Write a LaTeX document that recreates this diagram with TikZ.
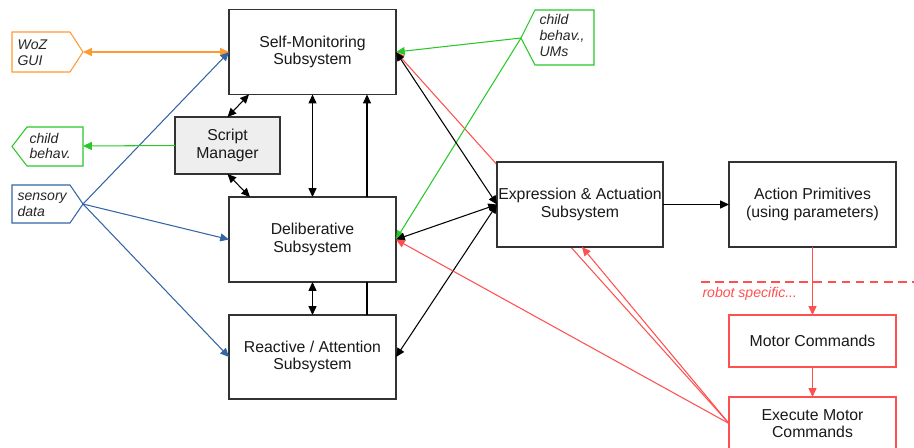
\documentclass[tikz,border=0pt]{standalone}
\usepackage{fontspec}
\setmainfont{Liberation Sans}
\usetikzlibrary{arrows.meta,backgrounds}

\definecolor{wozorange}{RGB}{255,153,51}
\definecolor{childgreen}{RGB}{40,200,40}
\definecolor{sensblue}{RGB}{52,101,164}
\definecolor{robred}{RGB}{255,80,80}
\definecolor{boxgray}{RGB}{238,238,238}

\begin{document}
\begin{tikzpicture}[x=0.02cm,y=-0.02cm,
  >={Triangle[length=5pt,width=4.5pt]},
  every path/.style={line width=0.6pt},
  subsys/.style={draw=black!80,line width=0.8pt,fill=white,text=black!90,align=center,
    font=\fontsize{9}{9.8}\selectfont,inner sep=0pt,outer sep=0pt,
    minimum width=3.34cm,minimum height=1.7cm},
  tagtext/.style={anchor=west,align=left,inner sep=0pt,text=black!85,
    font=\fontsize{8}{9}\selectfont\itshape}]
\useasboundingbox (0,0) rectangle (914,447);

% input / output tags
\draw[wozorange] (12,32) -- (70,32) -- (83,52) -- (70,72) -- (12,72) -- cycle;
\node[tagtext] (woz) at (17,53) {WoZ\\GUI};
\coordinate (woztip) at (83,52);
\draw[childgreen] (27,127) -- (83,127) -- (83,166) -- (27,166) -- (12,146.5) -- cycle;
\node[tagtext] (childl) at (29,146) {child\\behav.};
\coordinate (childtip) at (83,146);
\draw[sensblue] (12,185) -- (70,185) -- (83,204) -- (70,223) -- (12,223) -- cycle;
\node[tagtext] (sensory) at (17,205) {sensory\\data};
\coordinate (senstip) at (83,204);
\draw[childgreen] (535,10) -- (594,10) -- (594,65) -- (535,65) -- (521,38) -- cycle;
\node[tagtext] (childr) at (539,35.5) {child\\behav.,\\UMs};
\coordinate (umtip) at (521,38);

% subsystems
\node[subsys] (selfmon) at (312.5,52) {Self-Monitoring\\Subsystem};
\node[subsys,fill=boxgray,minimum width=2.1cm,minimum height=1.14cm] (script) at (227.5,145.5) {Script\\Manager};
\node[subsys] (delib) at (312.5,239.5) {Deliberative\\Subsystem};
\node[subsys,minimum height=1.68cm] (react) at (312.5,357) {Reactive / Attention\\Subsystem};
\node[subsys,minimum width=3.32cm] (expr) at (580,204.5) {Expression \& Actuation\\Subsystem};
\node[subsys] (action) at (812.5,204.5) {Action Primitives\\(using parameters)};
\node[subsys,draw=robred,minimum height=1.04cm] (motor) at (812.5,341) {Motor Commands};
\node[subsys,draw=robred,minimum height=1.06cm] (exec) at (812.5,423.5) {Execute Motor\\Commands};

% robot specific part
\draw[robred,line width=1.3pt,dash pattern=on 5pt off 3pt] (701,282) -- (914,282);
\node[tagtext,text=robred] (robspec) at (702,294) {robot specific...};

% connectors
\draw[wozorange,<->] (woztip) -- (selfmon.west);
\draw[sensblue,->] (senstip) -- (selfmon.west);
\draw[sensblue,->] (senstip) -- (delib.west);
\draw[sensblue,->] (senstip) -- (react.west);
\draw[childgreen,->] (script.west) -- (childtip);
\draw[childgreen,->] (umtip) -- (selfmon.east);
\draw[childgreen,->] (umtip) -- (delib.east);
\draw[<->] (script.north) -- (249,0 |- selfmon.south);
\draw[<->] (script.south) -- (250,0 |- delib.north);
\draw[<->] (selfmon.south) -- (delib.north);
\draw[->] (367,0 |- delib.north) -- (367,0 |- selfmon.south);
\draw[<->] (delib.south) -- (react.north);
\draw (367,0 |- react.north) -- (367,0 |- delib.south);
\draw[<->] (selfmon.east) -- (expr.west);
\draw[<->] (delib.east) -- (expr.west);
\draw[<->] (react.east) -- (expr.west);
\draw[->] (expr.east) -- (action.west);
\draw[robred,->] (action.south) -- (motor.north);
\draw[robred,->] (motor.south) -- (exec.north);
\draw[robred,->] (exec.west) -- (delib.east);
\draw[robred,->] (exec.west) -- (582,0 |- expr.south);
\begin{scope}[on background layer]
\draw[robred,->] (exec.west) -- (selfmon.east);
\end{scope}
\end{tikzpicture}
\end{document}
